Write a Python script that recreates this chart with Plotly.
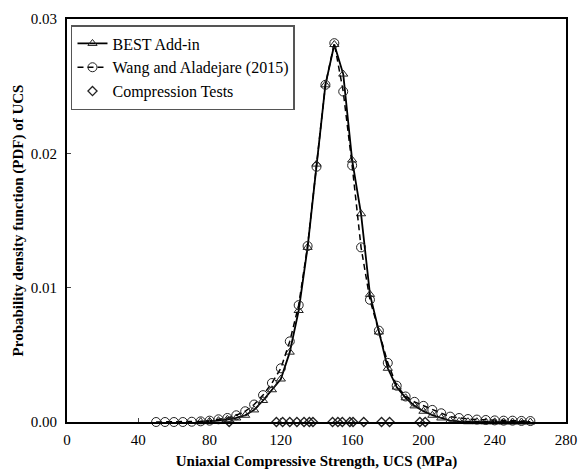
import plotly.graph_objects as go

# Wang and Aladejare (2015) - dashed with open circles
wang_x = [50, 55, 60, 65, 70, 75, 80, 85, 90, 95, 100, 105, 110, 115, 120, 125, 130, 135,
          140, 145, 150, 155, 160, 165, 170, 175, 180, 185, 190, 195, 200, 205, 210, 215,
          220, 225, 230, 235, 240, 245, 250, 255, 260]
wang_y = [0.0, 0.0, 0.0, 0.0, 0.00002, 0.00005, 0.0001, 0.0002, 0.0003, 0.0005, 0.0008,
          0.0013, 0.0020, 0.0029, 0.0040, 0.0060, 0.0087, 0.0131, 0.0190, 0.0251, 0.0282,
          0.0246, 0.0191, 0.0130, 0.0091, 0.0068, 0.0044, 0.0027, 0.0019, 0.0015, 0.0012,
          0.0009, 0.00065, 0.0004, 0.0003, 0.00022, 0.00018, 0.00015, 0.00012, 0.0001,
          0.0001, 0.00008, 0.00007]

# BEST Add-in - solid with open triangles
best_x = [75, 80, 85, 90, 95, 100, 105, 110, 115, 120, 125, 130, 135, 140, 145, 150, 155,
          160, 165, 170, 175, 180, 185, 190, 195, 200, 205, 210, 215, 220, 225, 230, 235,
          240, 245, 250, 255, 260]
best_y = [0.00002, 0.00005, 0.0001, 0.0002, 0.0003, 0.0005, 0.0009, 0.0016, 0.0024, 0.0032,
          0.0052, 0.0083, 0.0130, 0.0192, 0.0251, 0.0281, 0.0259, 0.0195, 0.0155, 0.0095,
          0.0067, 0.0040, 0.0026, 0.0018, 0.0012, 0.0008, 0.0005, 0.0003, 0.0001, 0.00005,
          0.00002, 0.00002, 0.00001, 0.00001, 0.0, 0.0, 0.0, 0.0]

# Compression tests (plotted on the axis)
tests_x = [91, 117.5, 121, 125, 129, 133, 136, 138, 149, 152, 154.5, 158.7, 160.5, 166.5,
           176.5, 181, 198, 201]
tests_y = [0.0] * len(tests_x)

x_ticks = [0, 40, 80, 120, 160, 200, 240, 280]
y_ticks = [0.00, 0.01, 0.02, 0.03]

FONT = "Liberation Serif, Times New Roman, serif"

fig = go.Figure()
fig.add_trace(go.Scatter(
    x=best_x, y=best_y, name="BEST Add-in", mode="lines+markers",
    line=dict(color="black", width=1.8),
    marker=dict(symbol="triangle-up-open", size=8, color="#222", line=dict(width=1)),
    cliponaxis=False))
fig.add_trace(go.Scatter(
    x=wang_x, y=wang_y, name="Wang and Aladejare (2015)", mode="lines+markers",
    line=dict(color="black", width=1.5, dash="6px,4px"),
    marker=dict(symbol="circle-open", size=9, color="#222", line=dict(width=1)),
    cliponaxis=False))
fig.add_trace(go.Scatter(
    x=tests_x, y=tests_y, name="Compression Tests", mode="markers",
    marker=dict(symbol="diamond-open", size=7, color="#222", line=dict(width=1.3)),
    cliponaxis=False))

fig.update_layout(
    width=579, height=472,
    margin=dict(l=67, r=13, t=19, b=50),
    paper_bgcolor="white", plot_bgcolor="white",
    font=dict(family=FONT, size=15, color="black"),
    showlegend=True,
    legend=dict(x=0.008, y=0.985, xanchor="left", yanchor="top",
                bordercolor="#555", borderwidth=1.5, bgcolor="white",
                font=dict(family=FONT, size=16, color="black"),
                tracegroupgap=0, itemwidth=30),
    xaxis=dict(range=[0, 280], tickvals=x_ticks, ticks="inside", ticklen=4,
               showline=True, linecolor="black", linewidth=2, mirror=True,
               showgrid=False, zeroline=False, automargin=False, ticklabelstandoff=3,
               title=dict(text="<b>Uniaxial Compressive Strength, UCS (MPa)</b>",
                          font=dict(size=15), standoff=8)),
    yaxis=dict(range=[0, 0.03], tickvals=y_ticks, tickformat=".2f", ticks="inside",
               ticklen=4, showline=True, linecolor="black", linewidth=2, mirror=True,
               showgrid=False, zeroline=False, automargin=False, ticklabelstandoff=5,
               title=dict(text="<b>Probability density function (PDF) of UCS</b>",
                          font=dict(size=15), standoff=4)),
)

fig.write_html("out.html")
